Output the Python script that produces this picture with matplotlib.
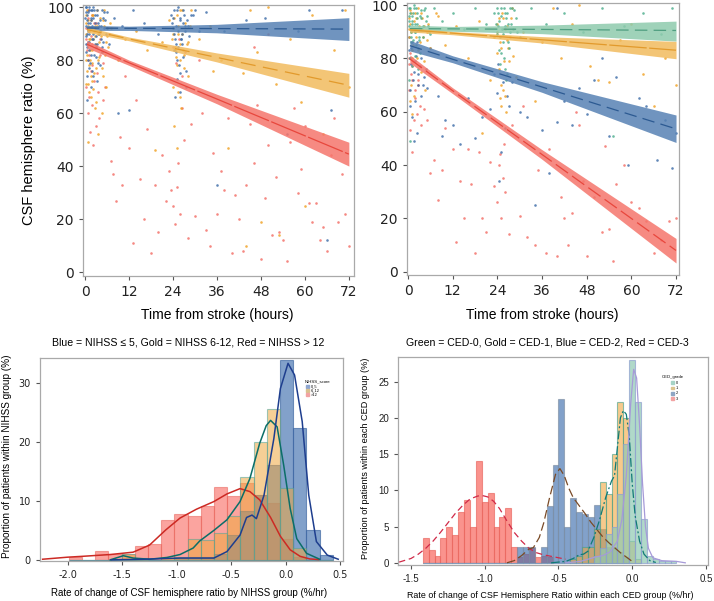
import numpy as np
import matplotlib
matplotlib.use("Agg")
import matplotlib.pyplot as plt
from matplotlib.patches import Rectangle

plt.rcParams['font.family'] = ['DejaVu Sans']
SANS = ['Liberation Sans', 'DejaVu Sans']

# ---------------- top panels: CSF ratio vs time ----------------
fit_x = [0.5, 12, 36, 72]

# NIHSS groups (left panel): fitted line, lower band, upper band
nih_fit = {
    'blue': ([92.1, 92.0, 91.9, 91.7], [91.2, 91.2, 90.3, 87.4], [93.1, 92.8, 93.5, 96.0]),
    'gold': ([91.5, 88.0, 81.0, 70.5], [90.5, 87.3, 79.3, 66.0], [92.5, 88.7, 82.7, 75.0]),
    'red': ([86.0, 79.0, 65.3, 44.5], [84.6, 78.0, 63.5, 40.0], [87.4, 80.0, 67.1, 49.0]),
}
# CED groups (right panel)
ced_fit = {
    'green': ([91.2, 91.1, 90.9, 90.5], [90.0, 90.2, 89.3, 86.5], [92.5, 92.0, 92.5, 94.0]),
    'gold': ([90.7, 89.5, 87.0, 83.1], [89.9, 88.9, 85.8, 79.9], [91.5, 90.1, 88.2, 86.4]),
    'blue': ([84.8, 79.7, 69.3, 53.6], [82.8, 78.4, 67.3, 48.5], [86.8, 81.0, 71.3, 58.8]),
    'red': ([79.8, 67.9, 44.0, 8.0], [78.3, 66.8, 42.2, 3.3], [81.3, 69.0, 45.8, 12.5]),
}

# scatter points (hours, ratio)
tl_blue_x = [0.3, 0.5, 0.8, 1, 1.2, 1.5, 2, 2.3, 2.8, 3, 3.5, 4, 4.5, 5, 5.5, 0.4, 0.9, 1.8, 2.5, 3.2,
             0.6, 1.1, 2.1, 4.2, 6, 8, 10, 13, 16, 20, 23.5, 24, 24.5, 25, 25.5, 26, 26.5, 27, 25, 26,
             27.5, 24.6, 28, 30, 33, 38, 44, 49, 55, 61, 66, 67, 70, 36, 58, 12, 9,
             0.2, 0.4, 0.6, 0.9, 1.1, 1.3, 1.6, 1.9, 2.2, 2.6, 2.9, 3.3, 3.7, 4.1, 4.6, 5.1, 5.7, 0.3, 0.7, 1.4,
             2.4, 3.4, 4.4, 0.5, 1.7, 23.8, 24.2, 24.7, 25.3, 25.8, 26.3, 26.8, 27.3, 24.9, 25.6, 26.6, 27.8,
             28.5, 29.5, 31,
             0.1, 0.3, 0.5, 0.7, 0.9, 1.2, 1.4, 1.7, 2.0, 2.3, 2.6, 3.0, 3.4, 3.8, 4.3, 4.8, 5.3, 5.9, 6.5, 0.2,
             0.6, 1.0, 1.5, 2.1, 2.7, 3.6, 4.7, 23.9, 24.4, 24.9, 25.5, 26.1, 26.7, 27.2, 24.3, 25.1, 25.9,
             26.8, 27.6, 28.8]
tl_blue_y = [98, 95, 92, 99, 90, 96, 93, 88, 97, 85, 94, 91, 99, 87, 95, 86, 80, 76, 82, 72,
             65, 100, 100, 78, 92, 96, 93, 99, 94, 90, 97, 92, 88, 99, 85, 95, 90, 97, 80, 75,
             70, 66, 93, 99, 98, 91, 95, 96, 52, 99, 12, 61, 99, 33, 91, 61, 60,
             93, 89, 97, 91, 84, 94, 99, 88, 96, 92, 81, 97, 90, 95, 85, 98, 90, 100, 87, 79,
             99, 86, 93, 74, 70, 94, 99, 86, 91, 96, 88, 99, 93, 83, 78, 86, 95,
             89, 97, 91,
             96, 100, 90, 94, 98, 87, 92, 95, 99, 90, 94, 89, 99, 93, 88, 96, 92, 98, 86, 83,
             85, 77, 82, 74, 86, 79, 83, 96, 90, 93, 100, 88, 94, 91, 84, 73, 68,
             81, 76, 97]
tl_gold_x = [0.4, 0.7, 1, 1.3, 1.7, 2, 2.4, 2.9, 3.3, 3.8, 4.3, 4.8, 5.3, 5.8, 6.3, 0.5, 1.5, 2.6, 3.6, 0.8,
             7, 9, 11, 14, 17, 19, 21, 23, 24, 24.5, 25, 25.5, 26, 26.5, 27, 24.3, 25.2, 26.2, 28, 29,
             31, 34, 37, 39, 43, 45, 47, 50, 52, 56, 59, 62, 65, 68, 71, 72, 48, 53, 44, 60, 35,
             0.2, 0.5, 0.8, 1.1, 1.4, 1.8, 2.2, 2.7, 3.1, 3.5, 4, 4.6, 5.1, 5.6, 6.1, 0.3, 1, 2, 3, 4.5,
             23.7, 24.2, 24.8, 25.4, 26, 26.7, 27.3, 28.2, 24, 25.8,
             0.15, 0.45, 0.75, 1.05, 1.35, 1.65, 1.95, 2.25, 2.55, 2.85, 3.15, 3.45, 3.75, 4.05, 4.5, 5.0,
             5.5, 6.0, 6.8, 0.25, 0.9, 1.6, 2.3, 24.1, 24.6, 25.2, 25.8, 26.4, 27, 27.8, 28.6, 25.5]
tl_gold_y = [97, 93, 88, 84, 95, 79, 91, 86, 99, 81, 89, 74, 93, 70, 85, 76, 66, 62, 52, 49,
             92, 80, 88, 91, 84, 46, 87, 95, 90, 84, 78, 93, 86, 99, 82, 55, 47, 62, 74, 99,
             88, 93, 80, 47, 75, 99, 83, 100, 71, 88, 64, 97, 52, 84, 99, 70, 19, 14, 10, 25, 76,
             94, 99, 86, 91, 80, 97, 88, 93, 77, 90, 96, 83, 99, 87, 92, 71, 68, 72, 64, 60,
             88, 96, 81, 90, 99, 84, 94, 87, 70, 66,
             90, 82, 95, 78, 88, 92, 84, 97, 75, 89, 93, 80, 87, 91, 77, 95,
             82, 89, 94, 80, 71, 74, 69, 92, 85, 97, 80, 90, 77, 86, 93, 68]
tl_red_x = [0.3, 0.6, 0.9, 1.2, 1.6, 2, 2.5, 3, 3.5, 4, 0.7, 1.4, 2.2, 3.8, 5, 6.5, 7, 7.5, 8.5, 9.5,
            10, 11, 12, 13, 14, 15, 16, 17, 18, 19, 20, 21, 22, 23, 23.5, 24, 24.5, 25, 25.5, 26,
            26.5, 27, 28, 29, 30, 31, 32, 33, 34, 35, 36, 37, 38, 39, 40, 41, 42, 43, 44, 45,
            46, 47, 48, 49, 50, 51, 52, 53, 54, 55, 56, 57, 58, 59, 60, 61, 62, 63, 64, 65,
            66, 67, 68, 69, 70, 71, 72, 50, 46,
            0.2, 0.5, 0.8, 1.1, 1.5, 1.9, 2.4, 2.9, 3.4, 4.1, 4.8, 5.5, 0.4, 1, 2, 3, 23.9, 24.8, 25.6, 26.4,
            27.2, 0.9, 1.8]
tl_red_y = [88, 84, 80, 91, 76, 86, 72, 94, 68, 82, 60, 53, 48, 58, 65, 90, 42, 37, 27, 51,
            33, 74, 47, 11, 65, 35, 20, 54, 7, 33, 15, 44, 27, 38, 31, 25, 18, 32, 41, 22,
            62, 50, 13, 56, 21, 80, 60, 16, 10, 45, 22, 38, 31, 58, 7, 29, 20, 8, 33, 56,
            41, 63, 5, 28, 48, 14, 36, 15, 12, 4, 49, 62, 30, 39, 55, 26, 19, 26, 12, 17,
            8, 44, 58, 19, 37, 22, 10, 90, 85,
            92, 86, 96, 82, 89, 78, 94, 85, 75, 88, 79, 70, 70, 66, 63, 55, 85, 79, 88, 74,
            83, 99, 97]

tr_green_x = [0.5, 1, 1.5, 2, 2.5, 3, 3.5, 4, 5, 6, 0.8, 1.8, 2.8, 0.3, 7, 9, 12, 15, 18, 21,
              23, 24, 24.5, 25, 25.5, 26, 26.5, 27, 27.5, 28, 29, 30, 24.8, 26.2, 33, 37, 42, 47, 52, 58,
              63, 68, 71, 0.6, 55,
              0.2, 0.4, 0.7, 1.0, 1.3, 1.6, 2.0, 2.3, 2.7, 3.1, 3.6, 4.1, 4.6, 5.3, 0.5, 1.1, 2.2, 3.3,
              23.6, 24.1, 24.6, 25.2, 25.7, 26.3, 26.9, 27.6, 28.4, 29.2, 25, 26,
              0.15, 0.35, 0.55, 0.85, 1.15, 1.45, 1.75, 2.1, 2.5, 2.9, 3.3, 3.8, 4.3, 4.9, 5.6,
              23.8, 24.3, 24.9, 25.5, 26.1, 26.8, 27.4, 28.1, 24.5, 25.9, 26.5]
tr_green_y = [97, 93, 99, 90, 95, 88, 98, 92, 96, 89, 86, 81, 76, 72, 99, 94, 97, 91, 99, 93,
              97, 89, 94, 99, 86, 92, 97, 84, 90, 99, 95, 88, 78, 72, 99, 93, 97, 90, 99, 92,
              97, 89, 99, 49, 51,
              94, 99, 90, 96, 87, 100, 93, 97, 84, 91, 95, 88, 99, 92, 80, 77, 85, 82,
              93, 97, 88, 91, 99, 95, 86, 93, 98, 90, 82, 76,
              96, 92, 99, 88, 94, 97, 90, 99, 93, 87, 96, 91, 98, 94, 90,
              99, 92, 96, 89, 97, 93, 99, 91, 83, 80, 74]
tr_gold_x = [0.4, 0.9, 1.4, 1.9, 2.4, 2.9, 3.4, 4, 4.5, 5.5, 0.6, 1.2, 7.5, 10, 13, 16, 19, 22, 23, 24,
             24.5, 25, 25.5, 26, 26.5, 27, 28, 29, 31, 34, 36, 39, 41, 44, 46, 49, 51, 54, 57, 60,
             63, 66, 69, 72, 8, 20,
             0.3, 0.6, 1.0, 1.5, 2.1, 2.6, 3.2, 3.8, 4.4, 5.0, 5.8, 0.8, 1.7, 23.8, 24.4, 25.1, 25.9, 26.6,
             27.4, 28.3, 24.7, 26.2,
             0.2, 0.5, 0.8, 1.1, 1.6, 2.2, 2.8, 3.5, 4.2, 5.2, 24, 24.6, 25.3, 26, 26.8, 27.6, 25.6, 24.9]
tr_gold_y = [95, 90, 85, 97, 80, 92, 75, 88, 68, 93, 64, 59, 97, 85, 92, 80, 94, 72, 88, 82,
             76, 70, 95, 66, 87, 79, 99, 73, 90, 64, 86, 99, 80, 93, 100, 77, 72, 71, 87, 93,
             74, 62, 80, 70, 96, 52,
             91, 98, 83, 94, 88, 99, 86, 95, 79, 90, 84, 70, 66, 90, 95, 84, 79, 92,
             88, 81, 65, 60,
             88, 93, 97, 80, 91, 95, 83, 97, 92, 87, 93, 86, 97, 91, 84, 95, 68, 62]
tr_blue_x = [0.3, 0.7, 1.1, 1.6, 2.1, 2.6, 3.1, 3.6, 4.2, 5, 0.5, 1.5, 2.5, 6, 8, 9, 10, 12, 14, 16,
             18, 20, 22, 23, 24, 24.5, 25, 26, 27, 28, 30, 32, 34, 36, 38, 40, 42, 44, 46, 48,
             50, 52, 54, 56, 59, 62, 64, 67, 69, 71, 72, 40,
             0.2, 0.5, 0.9, 1.3, 1.8, 2.3, 2.8, 3.4, 4.0, 4.7, 0.6, 1.2, 2.0, 24.2, 25.4, 26.5]
tr_blue_y = [83, 78, 86, 75, 81, 70, 77, 66, 73, 69, 62, 49, 52, 84, 66, 51, 57, 55, 48, 65,
             50, 58, 61, 74, 67, 34, 45, 54, 62, 71, 60, 58, 25, 53, 37, 56, 64, 55, 69, 59,
             72, 80, 51, 73, 40, 65, 62, 42, 57, 39, 52, 99,
             88, 80, 84, 72, 79, 86, 74, 80, 70, 76, 68, 58, 64, 78, 71, 66]
tr_red_x = [0.4, 0.8, 1.2, 1.8, 2.3, 2.8, 3.5, 4.2, 5, 0.5, 1, 6, 7, 8, 9, 10, 12, 13, 14, 15,
            16, 17, 18, 19, 20, 21, 22, 23, 24, 24.5, 25, 25.5, 26, 27, 28, 30, 31, 32, 34, 35,
            37, 38, 40, 41, 42, 43, 44, 46, 47, 48, 50, 52, 53, 54, 55, 56, 58, 60, 62, 64,
            66, 68, 70, 72, 45,
            0.2, 0.6, 1.0, 1.4, 2.0, 2.6, 3.2, 0.3, 1.6, 24.6, 25.8]
tr_red_y = [80, 74, 77, 68, 59, 72, 55, 61, 57, 53, 45, 37, 42, 27, 38, 54, 46, 11, 34, 20,
            46, 33, 7, 45, 20, 15, 41, 32, 26, 40, 20, 35, 30, 14, 55, 21, 62, 13, 10, 38,
            7, 46, 6, 28, 20, 10, 22, 55, 34, 6, 28, 15, 47, 16, 4, 33, 40, 26, 24, 19,
            7, 12, 19, 20, 60,
            78, 82, 72, 79, 65, 70, 62, 68, 57, 44, 48]

# ---------------- bottom-left: NIHSS histograms ----------------
nih_bin0, nih_binw = -1.99, 0.121
nih_red = [0.5, 0, 1.5, 1.0, 1.0, 2.3, 2.7, 6.7, 7.8, 7.4, 9.1, 12.4, 10.8, 13.0, 11.1, 9.6, 3.5, 0.5, 0, 0]
nih_gold = [0, 0, 0, 0, 1.0, 0.3, 0, 0.3, 0.5, 3.5, 3.4, 4.6, 7.5, 14.0, 20.0, 25.7, 12.2, 2.0, 0, 0]
nih_blue = [0, 0, 0, 0, 0, 0, 0, 0, 0.3, 0.5, 0.5, 1.0, 4.3, 8.3, 11.1, 16.2, 34.0, 22.4, 5.0, 0.9]

kde_nih_red_x = [-2.23, -2.0, -1.86, -1.61, -1.4, -1.25, -1.1, -0.97, -0.82, -0.66, -0.54, -0.42,
                 -0.33, -0.24, -0.14, -0.05, 0.04, 0.13, 0.22, 0.3]
kde_nih_red_y = [0.1, 0.45, 0.6, 0.9, 1.3, 2.5, 5.1, 7.1, 8.6, 9.9, 11.2, 12.1,
                 11.6, 10.2, 7.2, 4.0, 1.7, 0.6, 0.15, 0.05]
kde_nih_gold_x = [-1.61, -1.49, -1.4, -1.25, -1.09, -0.97, -0.85, -0.79, -0.66, -0.54, -0.42, -0.33,
                  -0.24, -0.18, -0.14, -0.08, -0.02, 0.04, 0.1, 0.19, 0.31]
kde_nih_gold_y = [0.0, 0.7, 0.3, 0.1, 0.4, 0.9, 2.0, 3.2, 5.0, 6.8, 9.9, 13.8,
                  19.8, 22.8, 23.7, 22.6, 16.1, 8.7, 3.6, 1.1, 0.1]
kde_nih_blue_x = [-1.6, -1.3, -0.97, -0.66, -0.54, -0.42, -0.36, -0.31, -0.27, -0.2, -0.11, -0.05,
                  0.02, 0.08, 0.15, 0.21, 0.28, 0.38, 0.48]
kde_nih_blue_y = [0.0, 0.1, 0.3, 0.3, 1.4, 4.2, 7.2, 7.6, 7.0, 11.0, 20.6, 29.1,
                  33.4, 31.4, 23.5, 11.0, 3.1, 0.8, 0.1]

# ---------------- bottom-right: CED histograms ----------------
ced_bin0, ced_binw = -1.42, 0.04
ced_red = [3.4, 1.8, 0.9, 3.4, 5.0, 3.8, 7.0, 8.7, 5.0, 14.1, 8.4, 9.6, 5.0, 6.3, 7.5, 2.2, 0.8,
           1.2, 2.0, 0.8, 0.9, 0.8]
ced_blue = [0] * 16 + [2.2, 2.2, 2.2, 0, 2.2, 7.8, 13.5, 22.6, 5.0, 9.0, 7.0, 6.7, 6.3, 8.0, 4.6,
                       2.2, 2.2, 1.5, 0.8]
ced_gold = [0] * 25 + [0.5, 1.0, 2.2, 2.2, 4.6, 11.2, 9.5, 15.0, 22.2, 20.0, 3.0, 0.5]
ced_green = [0] * 29 + [1.0, 2.0, 4.0, 5.0, 9.5, 16.4, 28.0, 22.2, 6.0, 1.0, 0.5, 0.3, 0.3, 0.2]

kde_ced_red_x = [-1.58, -1.5, -1.45, -1.4, -1.35, -1.3, -1.25, -1.2, -1.15, -1.1, -1.05, -1.02,
                 -0.98, -0.94, -0.9, -0.85, -0.8, -0.75, -0.7, -0.65, -0.6, -0.55, -0.5, -0.45]
kde_ced_red_y = [0.1, 0.6, 1.2, 2.0, 3.0, 4.2, 5.5, 6.8, 7.9, 8.8, 9.2, 9.3,
                 9.1, 8.5, 7.5, 5.8, 4.2, 3.0, 2.0, 1.4, 1.1, 0.9, 0.7, 0.5]
kde_ced_blue_x = [-0.85, -0.8, -0.75, -0.7, -0.67, -0.63, -0.6, -0.56, -0.52, -0.49, -0.46, -0.43,
                  -0.4, -0.36, -0.32, -0.28, -0.24, -0.2, -0.16, -0.12, -0.08, -0.04, 0.0]
kde_ced_blue_y = [0.0, 0.3, 1.0, 1.9, 2.1, 3.5, 5.5, 9.0, 12.2, 13.0, 12.0, 10.3,
                  9.0, 7.9, 6.8, 5.6, 4.6, 3.6, 2.8, 2.1, 1.4, 0.8, 0.2]
kde_ced_gold_x = [-0.55, -0.45, -0.4, -0.36, -0.33, -0.3, -0.26, -0.22, -0.18, -0.14, -0.12, -0.1,
                  -0.08, -0.06, -0.04, -0.02, 0.0, 0.02, 0.05, 0.08, 0.12, 0.16]
kde_ced_gold_y = [0.0, 0.2, 0.6, 1.1, 1.2, 1.6, 3.5, 6.0, 9.0, 11.3, 12.0, 16.0,
                  20.0, 21.0, 20.5, 17.5, 11.0, 6.5, 3.0, 1.2, 0.3, 0.05]
kde_ced_green_x = [-0.45, -0.35, -0.3, -0.25, -0.2, -0.15, -0.1, -0.07, -0.04, -0.01, 0.01, 0.03,
                   0.05, 0.07, 0.09, 0.11, 0.14, 0.2, 0.25, 0.3, 0.36]
kde_ced_green_y = [0.0, 0.2, 0.5, 0.8, 1.0, 1.5, 3.0, 6.0, 12.0, 22.0, 26.7, 25.5,
                   19.0, 11.0, 5.0, 2.0, 0.7, 0.3, 0.25, 0.2, 0.0]

# ---------------- colours ----------------
C_BAND = {'blue': '#5782b4', 'gold': '#f2bb5e', 'red': '#f5766c', 'green': '#8ecaad'}
C_LINE = {'blue': '#2c5a92', 'gold': '#e29a2c', 'red': '#e8473d', 'green': '#4f9e80'}
C_DOT = {'blue': '#3a6aa6', 'gold': '#f0a020', 'red': '#f36b63', 'green': '#49ad8a'}
FRAME = '#a9a9a9'

fig = plt.figure(figsize=(7.14, 6.01), dpi=100)
W, H = 714, 601


def px_axes(l, t, r, b):
    return fig.add_axes([l / W, 1 - b / H, (r - l) / W, (b - t) / H])


def style_frame(ax):
    for s in ax.spines.values():
        s.set_color(FRAME)
        s.set_linewidth(0.9)
    ax.tick_params(colors='#555555', length=3, width=0.8, labelcolor='#222222')


def top_panel(ax, fits, dots, dashes, xlim, ylim):
    for name, (xs, ys) in dots.items():
        ax.scatter(xs, ys, s=3.5, color=C_DOT[name], alpha=0.8, lw=0, zorder=2)
    for name, (fit, lo, hi) in fits.items():
        ax.fill_between(fit_x, lo, hi, color=C_BAND[name], alpha=0.85, lw=0, zorder=3)
        ax.plot(fit_x, fit, color=C_LINE[name], lw=0.9, dashes=dashes[name], zorder=4)
    ax.set_xlim(*xlim)
    ax.set_ylim(*ylim)
    ax.set_xticks([0, 12, 24, 36, 48, 60, 72])
    ax.set_yticks([0, 20, 40, 60, 80, 100])
    ax.tick_params(labelsize=10)
    style_frame(ax)


ax1 = px_axes(83, 5, 354, 276)
top_panel(ax1, nih_fit,
          {'red': (tl_red_x, tl_red_y), 'gold': (tl_gold_x, tl_gold_y), 'blue': (tl_blue_x, tl_blue_y)},
          {'blue': (10, 5), 'gold': (12, 6), 'red': (30, 2)},
          (-0.55, 73.4), (-1.5, 100.8))
ax1.set_ylabel('CSF hemisphere ratio (%)', family=SANS, fontsize=10.5, labelpad=8)

ax2 = px_axes(407, 3, 679, 275)
top_panel(ax2, ced_fit,
          {'red': (tr_red_x, tr_red_y), 'blue': (tr_blue_x, tr_blue_y),
           'gold': (tr_gold_x, tr_gold_y), 'green': (tr_green_x, tr_green_y)},
          {'green': (10, 5), 'gold': (30, 2), 'blue': (10, 5), 'red': (12, 4)},
          (-0.27, 72.8), (-1.2, 100.8))

fig.text(217 / W, 1 - 315 / H, 'Time from stroke (hours)', family=SANS, fontsize=10,
         ha='center', va='center')
fig.text(542 / W, 1 - 315 / H, 'Time from stroke (hours)', family=SANS, fontsize=10,
         ha='center', va='center')
fig.text(188 / W, 1 - 342 / H, 'Blue = NIHSS \u2264 5, Gold = NIHSS 6-12, Red = NIHSS > 12',
         family=SANS, fontsize=7.6, ha='center', va='center')
fig.text(547 / W, 1 - 342 / H, 'Green = CED-0, Gold = CED-1, Blue = CED-2, Red = CED-3',
         family=SANS, fontsize=7.6, ha='center', va='center')


def bars(ax, start, width, vals, face, edge, alpha):
    edges = start + width * np.arange(len(vals))
    ax.bar(edges, vals, width=width, align='edge', color=face, alpha=alpha,
           edgecolor=edge, linewidth=0.8, zorder=2)


# bottom-left: red under, then blue, gold on top (gives orange / olive / brown overlaps)
ax3 = px_axes(40, 358, 343, 561)
bars(ax3, nih_bin0, nih_binw, nih_red, '#f85a50', '#e8645c', 0.55)
bars(ax3, nih_bin0, nih_binw, nih_blue, '#3f6fae', '#3a64a0', 0.65)
bars(ax3, nih_bin0, nih_binw, nih_gold, '#f0a840', '#4fa59a', 0.55)
ax3.plot(kde_nih_red_x, kde_nih_red_y, color='#cc2a24', lw=1.1, zorder=4)
ax3.plot(kde_nih_gold_x, kde_nih_gold_y, color='#0b6e68', lw=1.1, zorder=4)
ax3.plot(kde_nih_blue_x, kde_nih_blue_y, color='#1e3e8e', lw=1.1, zorder=4)
ax3.set_xlim(-2.254, 0.524)
ax3.set_ylim(-0.2, 34.3)
ax3.set_xticks([-2.0, -1.5, -1.0, -0.5, 0.0, 0.5])
ax3.set_xticklabels(['-2.0', '-1.5', '-1.0', '-0.5', '0.0', '0.5'])
ax3.set_yticks([0, 10, 20, 30])
ax3.tick_params(labelsize=7)
style_frame(ax3)
fig.text(189 / W, 1 - 593 / H, 'Rate of change of CSF hemisphere ratio by NIHSS group (%/hr)',
         family=SANS, fontsize=7, ha='center', va='center')
fig.text(7 / W, 1 - 456 / H, 'Proportion of patients within NIHSS group (%)',
         family=SANS, fontsize=7.2, ha='center', va='center', rotation=90)

# legend (tiny)
fig.text(305 / W, 1 - 381 / H, 'NIHSS_score', family=SANS, fontsize=3.1, va='center')
for i, (lab, col) in enumerate([('0_5', '#8ea6d0'), ('6_12', '#d9c18f'), ('>12', '#f2a3a3')]):
    yy = 386.5 + 4.0 * i
    fig.patches.append(Rectangle((306 / W, 1 - (yy + 1.3) / H), 2.6 / W, 2.6 / H,
                                 transform=fig.transFigure, color=col, figure=fig))
    fig.text(310.5 / W, 1 - yy / H, lab, family=SANS, fontsize=2.9, va='center')

# bottom-right
ax4 = px_axes(398, 357, 708, 565)
bars(ax4, ced_bin0, ced_binw, ced_red, '#f85a50', '#e8645c', 0.65)
bars(ax4, ced_bin0, ced_binw, ced_blue, '#3f6fae', '#7f8fa3', 0.65)
bars(ax4, ced_bin0, ced_binw, ced_gold, '#f0a840', '#3f9e8a', 0.6)
bars(ax4, ced_bin0, ced_binw, ced_green, '#8fcab2', '#8f9fd0', 0.7)
ax4.plot(kde_ced_red_x, kde_ced_red_y, color='#d02a48', lw=0.9, dashes=(5, 3), zorder=4)
ax4.plot(kde_ced_blue_x, kde_ced_blue_y, color='#7a4a26', lw=0.9, dashes=(7, 3), zorder=4)
ax4.plot(kde_ced_gold_x, kde_ced_gold_y, color='#107a76', lw=0.9, dashes=(7, 2, 1.5, 2), zorder=4)
ax4.plot(kde_ced_green_x, kde_ced_green_y, color='#a69ad8', lw=0.9, zorder=4)
ax4.set_xlim(-1.588, 0.514)
ax4.set_ylim(-0.3, 28.4)
ax4.set_xticks([-1.5, -1.0, -0.5, 0.0, 0.5])
ax4.set_xticklabels(['-1.5', '-1.0', '-0.5', '0.0', '0.5'])
ax4.set_yticks([0, 5, 10, 15, 20, 25])
for lab in ax4.get_xticklabels() + ax4.get_yticklabels():
    lab.set_family(SANS)
ax4.tick_params(labelsize=7)
style_frame(ax4)
fig.text(550 / W, 1 - 595 / H, 'Rate of change of CSF Hemisphere Ratio within each CED group (%/hr)',
         family=SANS, fontsize=6.4, ha='center', va='center')
fig.text(366 / W, 1 - 458 / H, 'Proportion of patients within each CED group (%)',
         family=SANS, fontsize=6.6, ha='center', va='center', rotation=90)

fig.text(662 / W, 1 - 377 / H, 'CED_grade', family=SANS, fontsize=3.1, va='center')
for i, (lab, col) in enumerate([('0', '#a6d3c6'), ('1', '#dcc48e'), ('2', '#8ea6c4'), ('3', '#f2a3a3')]):
    yy = 382.7 + 5.3 * i
    fig.patches.append(Rectangle((671 / W, 1 - (yy + 1.3) / H), 2.6 / W, 2.6 / H,
                                 transform=fig.transFigure, color=col, figure=fig))
    fig.text(675.5 / W, 1 - yy / H, lab, family=SANS, fontsize=2.9, va='center')

fig.savefig('out.png', dpi=100)
